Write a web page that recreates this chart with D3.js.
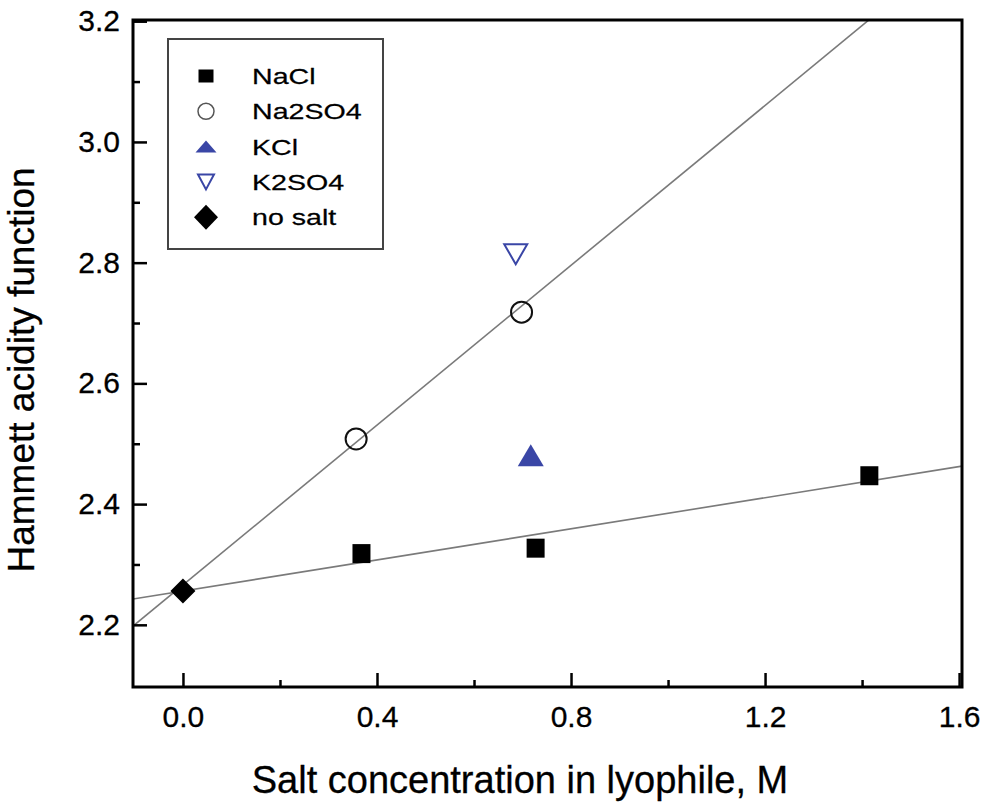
<!DOCTYPE html>
<html>
<head>
<meta charset="utf-8">
<script src="https://cdn.jsdelivr.net/npm/d3@7"></script>
<style>
  html, body { margin: 0; padding: 0; background: #fff; }
  svg { display: block; }
  text { font-family: "Liberation Sans", Arial, Helvetica, sans-serif; fill: #000; }
</style>
</head>
<body>
<svg id="chart" width="987" height="803"></svg>
<script>
// ---------------- data ----------------
const seriesNames = ["NaCl", "Na2SO4", "KCl", "K2SO4", "no salt"];
const naclX = [0.368, 0.727, 1.415];
const naclY = [2.318, 2.327, 2.447];
const na2so4X = [0.357, 0.698];
const na2so4Y = [2.508, 2.718];
const kclX = [0.717];
const kclY = [2.481];
const k2so4X = [0.686];
const k2so4Y = [2.814];
const noSaltX = [0.0];
const noSaltY = [2.256];
// linear fits (intercept, slope)
const fitIntercepts = [2.266, 2.256];
const fitSlopes = [0.662, 0.1288];
// ticks
const xMajorTicks = [0.0, 0.4, 0.8, 1.2, 1.6];
const xMinorTicks = [0.2, 0.6, 1.0, 1.4];
const yMajorTicks = [2.2, 2.4, 2.6, 2.8, 3.0, 3.2];
const yMinorTicks = [2.3, 2.5, 2.7, 2.9, 3.1];
const xTitle = "Salt concentration in lyophile, M";
const yTitle = "Hammett acidity function";

// ---------------- layout ----------------
const L = 133, R = 962, T = 20, B = 687;
const blue = "#3a46a6";
const svg = d3.select("#chart");

const x = d3.scaleLinear().domain([-0.103, 1.606]).range([L, R]);
const y = d3.scaleLinear().domain([2.097, 3.202]).range([B, T]);

svg.append("defs").append("clipPath").attr("id", "plotclip")
  .append("rect").attr("x", L).attr("y", T).attr("width", R - L).attr("height", B - T);

// fit lines
const xd = x.domain();
const fitData = fitIntercepts.map((b, i) => xd.map(v => [v, b + fitSlopes[i] * v]));
const lineGen = d3.line().x(d => x(d[0])).y(d => y(d[1]));
svg.append("g").attr("clip-path", "url(#plotclip)")
  .selectAll("path").data(fitData).join("path")
  .attr("d", lineGen)
  .attr("fill", "none")
  .attr("stroke", "#7a7a7a")
  .attr("stroke-width", 1.6);

// axes
function styleAxis(g) {
  g.select(".domain").remove();
  g.selectAll(".tick line").attr("stroke", "#000").attr("stroke-width", 2.5);
  g.selectAll("text").attr("font-size", 30).attr("font-family", '"Liberation Sans", Arial, sans-serif')
    .attr("fill", "#000").attr("stroke", "#000").attr("stroke-width", 0.3);
}
svg.append("g").attr("transform", `translate(0,${B})`)
  .call(d3.axisBottom(x).tickValues(xMajorTicks).tickFormat(d3.format(".1f")).tickSizeInner(-14).tickSizeOuter(0).tickPadding(19))
  .call(styleAxis);
svg.append("g").attr("transform", `translate(0,${B})`)
  .call(d3.axisBottom(x).tickValues(xMinorTicks).tickFormat("").tickSizeInner(-7).tickSizeOuter(0))
  .call(styleAxis);
svg.append("g").attr("transform", `translate(${L},0)`)
  .call(d3.axisLeft(y).tickValues(yMajorTicks).tickFormat(d3.format(".1f")).tickSizeInner(-14).tickSizeOuter(0).tickPadding(13))
  .call(styleAxis);
svg.append("g").attr("transform", `translate(${L},0)`)
  .call(d3.axisLeft(y).tickValues(yMinorTicks).tickFormat("").tickSizeInner(-7).tickSizeOuter(0))
  .call(styleAxis);

// frame
svg.append("rect").attr("x", L).attr("y", T).attr("width", R - L).attr("height", B - T)
  .attr("fill", "none").attr("stroke", "#000").attr("stroke-width", 3);

// symbol shape paths (centered at 0,0)
function squarePath(w, h) { return `M${-w/2},${-h/2}h${w}v${h}h${-w}Z`; }
function diamondPath(w, h) { return `M0,${-h/2}L${w/2},0L0,${h/2}L${-w/2},0Z`; }
function triUpPath(w, h) { return `M0,${-h/2}L${w/2},${h/2}L${-w/2},${h/2}Z`; }
function triDownPath(w, h) { return `M0,${h/2}L${w/2},${-h/2}L${-w/2},${-h/2}Z`; }

const marks = svg.append("g");
// NaCl
marks.selectAll(".nacl").data(naclX.map((v, i) => [v, naclY[i]])).join("path")
  .attr("transform", d => `translate(${x(d[0])},${y(d[1])})`)
  .attr("d", squarePath(18, 19)).attr("fill", "#000");
// Na2SO4
marks.selectAll(".na2so4").data(na2so4X.map((v, i) => [v, na2so4Y[i]])).join("circle")
  .attr("cx", d => x(d[0])).attr("cy", d => y(d[1])).attr("r", 10.5)
  .attr("fill", "none").attr("stroke", "#111").attr("stroke-width", 2);
// KCl
marks.selectAll(".kcl").data(kclX.map((v, i) => [v, kclY[i]])).join("path")
  .attr("transform", d => `translate(${x(d[0])},${y(d[1])})`)
  .attr("d", triUpPath(26, 22)).attr("fill", blue);
// K2SO4
marks.selectAll(".k2so4").data(k2so4X.map((v, i) => [v, k2so4Y[i]])).join("path")
  .attr("transform", d => `translate(${x(d[0])},${y(d[1])})`)
  .attr("d", triDownPath(23, 20)).attr("fill", "none").attr("stroke", blue).attr("stroke-width", 2);
// no salt
marks.selectAll(".nosalt").data(noSaltX.map((v, i) => [v, noSaltY[i]])).join("path")
  .attr("transform", d => `translate(${x(d[0])},${y(d[1])})`)
  .attr("d", diamondPath(25, 25)).attr("fill", "#000");

// legend
const leg = svg.append("g");
leg.append("rect").attr("x", 168).attr("y", 39).attr("width", 215).attr("height", 210)
  .attr("fill", "#fff").attr("stroke", "#444").attr("stroke-width", 2);
const legSymbols = [
  { d: squarePath(15, 13), fill: "#000", stroke: "none" },
  { circle: true },
  { d: triUpPath(21, 12), fill: blue, stroke: "none" },
  { d: triDownPath(16, 15), fill: "none", stroke: blue },
  { d: diamondPath(24, 25), fill: "#000", stroke: "none" }
];
const rowY = i => 76 + i * 35.3;
seriesNames.forEach((name, i) => {
  const s = legSymbols[i];
  if (s.circle) {
    leg.append("circle").attr("cx", 206).attr("cy", rowY(i)).attr("r", 8)
      .attr("fill", "none").attr("stroke", "#555").attr("stroke-width", 1.5);
  } else {
    leg.append("path").attr("transform", `translate(206,${rowY(i)})`).attr("d", s.d)
      .attr("fill", s.fill).attr("stroke", s.stroke).attr("stroke-width", 2);
  }
  leg.append("text").attr("transform", `translate(252,${rowY(i) + 8}) scale(1.3,1)`)
    .attr("font-size", 22).attr("stroke", "#000").attr("stroke-width", 0.25).text(name);
});

// titles
svg.append("text").attr("x", 520).attr("y", 793).attr("text-anchor", "middle")
  .attr("font-size", 38).attr("stroke", "#000").attr("stroke-width", 0.3).text(xTitle);
svg.append("text").attr("transform", "translate(34,370) rotate(-90)").attr("text-anchor", "middle")
  .attr("font-size", 37).attr("stroke", "#000").attr("stroke-width", 0.3).text(yTitle);
</script>
</body>
</html>
